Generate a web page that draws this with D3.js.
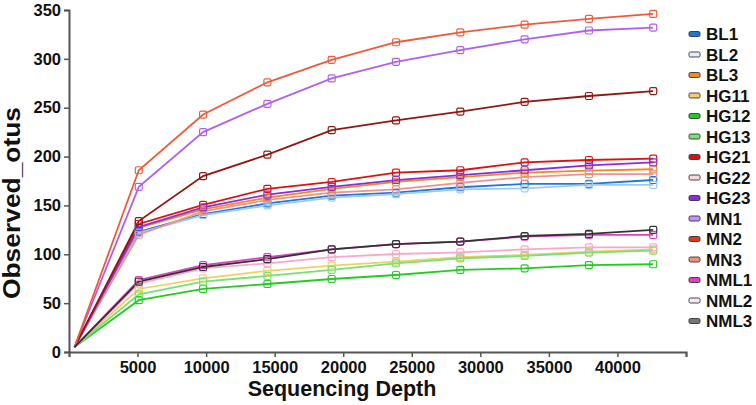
<!DOCTYPE html>
<html><head><meta charset="utf-8">
<script src="https://cdn.jsdelivr.net/npm/d3@7"></script>
<style>
html,body{margin:0;padding:0;background:#fff;}
svg{display:block;font-family:"Liberation Sans",Arial,sans-serif;}
</style></head>
<body><svg id="c" width="756" height="405"></svg>
<script>
const depths = [400, 5090, 9780, 14470, 19160, 23850, 28540, 33230, 37920, 42610];
const seriesNames = ["BL1","BL2","BL3","HG11","HG12","HG13","HG21","HG22","HG23","MN1","MN2","MN3","NML1","NML2","NML3"];
const BL1  = [5, 123, 141, 152, 160, 163, 168.6, 172, 172, 176];
const BL2  = [5, 122, 140, 150, 158, 161.5, 166.5, 167.5, 171, 171];
const BL3  = [5, 127, 146, 158, 167, 174, 179, 183.5, 185.6, 187];
const HG11 = [5, 64.5, 75.4, 83, 88.4, 92.5, 97, 99.3, 102.7, 105];
const HG12 = [5, 53, 64.5, 69.6, 74.7, 78.8, 84, 85.6, 89, 89.8];
const HG13 = [5, 59, 72, 77.8, 84, 90.8, 95.9, 98.3, 101.6, 103.7];
const HG21 = [5, 131, 150.5, 167, 174, 183.5, 186, 194, 196.5, 198];
const HG22 = [5, 120, 144, 155.6, 163, 166.5, 173, 179, 182, 182];
const HG23 = [5, 128, 148, 161, 169, 176, 181, 186, 191, 194];
const MN1  = [5, 169, 225, 254, 280, 297, 309, 320, 329, 332];
const MN2  = [5, 134, 180, 202, 227, 237, 246, 256, 262, 267];
const MN3  = [5, 186, 243, 276, 299, 317, 327, 335, 341, 346];
const NML1 = [5, 73.7, 89, 97, 105, 110.5, 113, 118, 119.8, 119.8];
const NML2 = [5, 70, 85.6, 90.8, 97, 100.3, 102, 105, 107, 107];
const NML3 = [5, 72, 87, 95, 105, 110.5, 113, 118.7, 120.8, 125];
const seriesValues = [BL1,BL2,BL3,HG11,HG12,HG13,HG21,HG22,HG23,MN1,MN2,MN3,NML1,NML2,NML3];
const xTicks = [0,5000,10000,15000,20000,25000,30000,35000,40000,45000];
const xTickLabels = ["","5000","10000","15000","20000","25000","30000","35000","40000",""];
const yTicks = [0,50,100,150,200,250,300,350];

const legendColors = ["#1f78d8","#e4eef8","#f08a1c","#f8c878","#22cc22","#77e077","#e01010","#f8d8d8","#8a2be2","#c890ff","#e03a18","#f09080","#e040c0","#fae8f4","#777777"];
const lineColors   = ["#1f78d8","#9ccaf0","#f08a1c","#f0d060","#22cc22","#77e077","#e01010","#f09090","#8a2be2","#b060f0","#901810","#f05a3c","#e040c0","#f8a8cc","#333333"];

const svg = d3.select("#c");
const x = d3.scaleLinear().domain([0,45000]).range([69,686]);
const y = d3.scaleLinear().domain([0,350]).range([352,10]);

const xAxis = d3.axisBottom(x).tickValues(xTicks).tickFormat((d,i)=>xTickLabels[i]).tickSize(5).tickPadding(4);
const gx = svg.append("g").attr("transform",`translate(0,${y(0)})`).call(xAxis);
const yAxis = d3.axisLeft(y).tickValues(yTicks).tickFormat(d3.format("d")).tickSize(5).tickPadding(3);
const gy = svg.append("g").attr("transform",`translate(${x(0)},0)`).call(yAxis);
[gx,gy].forEach(g=>{
  g.select(".domain").attr("stroke","#555").attr("stroke-width",2);
  g.selectAll(".tick line").attr("stroke","#555").attr("stroke-width",1.5);
  g.selectAll(".tick text").attr("fill","#111").style("font-size","16.5px").style("font-weight","bold");
});

const line = d3.line().x((d,i)=>x(depths[i])).y(d=>y(d));
const order = d3.range(seriesNames.length);
order.forEach(k=>{
  svg.append("path").datum(seriesValues[k])
    .attr("d",line).attr("fill","none")
    .attr("stroke",lineColors[k]).attr("stroke-width",1.8);
});
order.forEach(k=>{
  svg.append("g").selectAll("rect").data(seriesValues[k].slice(1)).join("rect")
    .attr("x",(d,i)=>x(depths[i+1])-3.5).attr("y",d=>y(d)-3.5)
    .attr("width",7).attr("height",7).attr("rx",1.5)
    .attr("fill","none").attr("stroke",lineColors[k]).attr("stroke-width",1.2);
});

const lg = svg.append("g");
seriesNames.forEach((n,i)=>{
  const cy = 34 + i*20.5;
  lg.append("rect").attr("x",689).attr("y",cy-2.5).attr("width",11).attr("height",5).attr("rx",1.5)
    .attr("fill",legendColors[i]).attr("stroke","#333").attr("stroke-width",0.9);
  lg.append("text").attr("x",706).attr("y",cy).attr("dy","0.36em")
    .style("font-size","17px").style("font-weight","bold").attr("fill","#111").text(n);
});

svg.append("text").attr("x",342).attr("y",396).attr("text-anchor","middle")
  .style("font-size","21.5px").style("font-weight","bold").attr("fill","#111").text("Sequencing Depth");
svg.append("text").attr("transform","translate(20,203) rotate(-90)").attr("text-anchor","middle")
  .attr("textLength",192).attr("lengthAdjust","spacingAndGlyphs")
  .style("font-size","23px").style("font-weight","bold").attr("fill","#111").text("Observed_otus");
</script></body></html>
